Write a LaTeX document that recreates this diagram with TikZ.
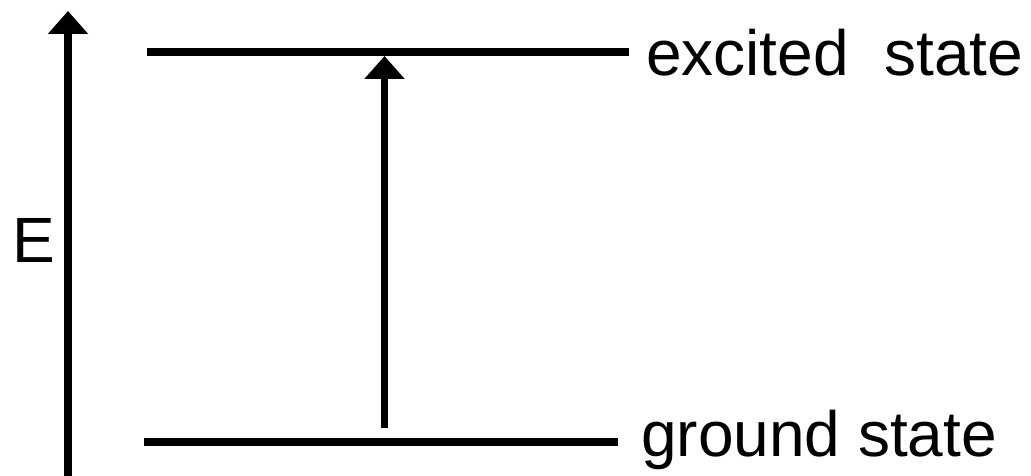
\documentclass[tikz,border=0pt]{standalone}
\usepackage{fontspec}
\setmainfont{Liberation Sans}
\usetikzlibrary{arrows.meta}
\tikzset{
  level/.style={line width=8pt, line cap=butt},
  uparrow/.style={line width=7.5pt, -{Triangle[width=39pt,length=23pt]}},
  lbl/.style={inner sep=0pt, anchor=base west, font=\fontsize{64}{76}\selectfont}
}
\begin{document}
\begin{tikzpicture}[x=1pt,y=-1pt]
\useasboundingbox (0,0) rectangle (1031,476);
% energy axis
\coordinate (axB) at (68,480);
\coordinate (axT) at (68,11);
\draw[uparrow] (axB) -- (axT);
\node[lbl] (E) at (12,262) {E};
% levels
\coordinate (exL) at (147,52);
\coordinate (exR) at (629,52);
\coordinate (grL) at (144,442);
\coordinate (grR) at (618,442);
\draw[level] (exL) -- (exR);
\draw[level] (grL) -- (grR);
\node[lbl] (exT) at (646,76) {excited\ \ state};
\node[lbl] (grT) at (641,456) {ground state};
% transition
\coordinate (trB) at (384.5,428);
\coordinate (trT) at (384.5,56);
\draw[uparrow] (trB) -- (trT);
\end{tikzpicture}
\end{document}
